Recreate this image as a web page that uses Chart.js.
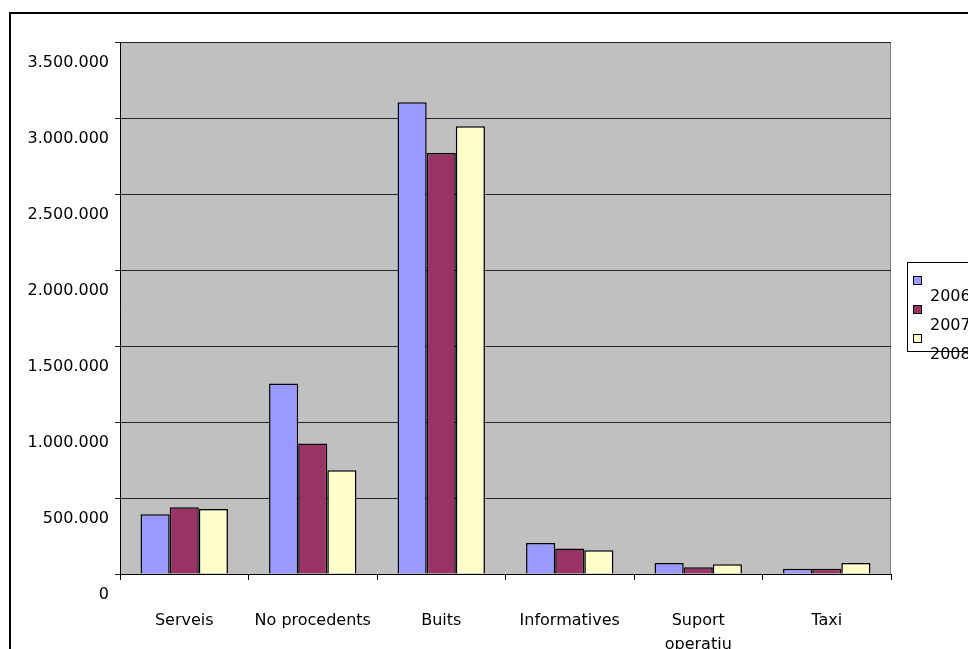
<!DOCTYPE html>
<html>
<head>
<meta charset="utf-8">
<script src="https://cdn.jsdelivr.net/npm/chart.js@4.4.1/dist/chart.umd.min.js"></script>
<style>
    body { margin: 0; background: #fff; }
    canvas { display: block; }
</style>
</head>
<body>
<canvas id="grafic" width="968" height="649"></canvas>
<script>
const categories = ['Serveis', 'No procedents', 'Buits', 'Informatives', ['Suport', 'operatiu'], 'Taxi'];
const years = ['2006', '2007', '2008'];
const vals2006 = [393000, 1253000, 3103000, 204000, 72000, 35000];
const vals2007 = [439000, 858000, 2770000, 167000, 44000, 35000];
const vals2008 = [428000, 683000, 2945000, 156000, 64000, 72000];
const yTicks = [0, 500000, 1000000, 1500000, 2000000, 2500000, 3000000, 3500000];
const colors = ['#9999ff', '#993366', '#ffffcc'];

const font = { family: 'DejaVu Sans', size: 16 };

function fmt(v) {
    return String(v).replace(/\B(?=(\d{3})+(?!\d))/g, '.');
}

// fons gris de l'area i marc exterior
const fons = {
    id: 'fons',
    beforeDraw(chart) {
        const c = chart.ctx, a = chart.chartArea;
        c.save();
        c.fillStyle = '#c0c0c0';
        c.fillRect(a.left, a.top, a.right - a.left, a.bottom - a.top);
        c.strokeStyle = '#808080';
        c.lineWidth = 1;
        c.strokeRect(a.left + 0.5, a.top + 0.5, a.right - a.left - 1, a.bottom - a.top);
        c.strokeStyle = '#000';
        c.lineWidth = 2;
        c.strokeRect(10, 13, 1100, 1100);
        c.restore();
    }
};

// llegenda a la dreta, com l'original
const llegenda = {
    id: 'llegenda',
    afterDraw(chart) {
        const c = chart.ctx;
        c.save();
        c.strokeStyle = '#000';
        c.lineWidth = 1;
        c.strokeRect(907.5, 262.5, 100, 89);
        c.font = '16px "DejaVu Sans"';
        c.textBaseline = 'alphabetic';
        chart.data.datasets.forEach((ds, i) => {
            const y = 276 + i * 29;
            c.fillStyle = ds.backgroundColor;
            c.fillRect(913.5, y + 0.5, 8, 8);
            c.strokeRect(913.5, y + 0.5, 8, 8);
            c.fillStyle = '#000';
            c.fillText(ds.label, 930, y + 25);
        });
        c.restore();
    }
};

new Chart(document.getElementById('grafic'), {
    type: 'bar',
    data: {
        labels: categories,
        datasets: [
            { label: years[0], data: vals2006, backgroundColor: colors[0] },
            { label: years[1], data: vals2007, backgroundColor: colors[1] },
            { label: years[2], data: vals2008, backgroundColor: colors[2] }
        ].map(d => Object.assign(d, { borderColor: '#000', borderWidth: 1.5, categoryPercentage: 0.68, barPercentage: 1 }))
    },
    options: {
        responsive: false,
        animation: false,
        layout: { padding: { top: 42, right: 77, left: 0, bottom: 0 } },
        plugins: { legend: { display: false }, tooltip: { enabled: false } },
        scales: {
            x: {
                grid: { offset: true, drawOnChartArea: false, tickLength: 6, color: '#000' },
                border: { color: '#000' },
                ticks: { font: { ...font, lineHeight: 1.5 }, color: '#000', padding: 29, maxRotation: 0 },
                afterFit(s) { s.height = 75; }
            },
            y: {
                min: 0,
                max: 3500000,
                afterBuildTicks(s) { s.ticks = yTicks.map(v => ({ value: v })); },
                grid: { color: '#222', tickLength: 5 },
                border: { color: '#000' },
                ticks: { font: font, color: '#000', padding: 6, labelOffset: 20.5, callback: v => fmt(v) },
                afterFit(s) { s.width = 120; }
            }
        }
    },
    plugins: [fons, llegenda]
});
</script>
</body>
</html>
